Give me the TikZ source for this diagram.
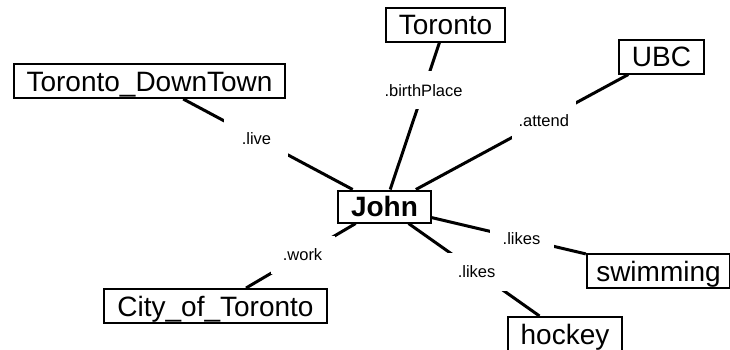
\documentclass[tikz,border=0pt]{standalone}
\usepackage{fontspec}
\setmainfont{Liberation Sans}
\usetikzlibrary{calc}

\begin{document}
\begin{tikzpicture}[x=1pt,y=-1pt,
	thing/.style={draw,line width=2pt,fill=white,inner xsep=13pt,inner ysep=0pt,
		minimum height=34pt,text height=20pt,text depth=0pt,font=\fontsize{28}{28}\selectfont},
	rel/.style={fill=white,inner sep=0pt,minimum width=64pt,minimum height=38pt,
		text height=12pt,text depth=0pt,font=\fontsize{16.5}{16.5}\selectfont},
	link/.style={line width=3pt}]

	\useasboundingbox (0,0) rectangle (730,349);

	% the subject and its objects
	\node[thing,minimum height=32pt] (john) at (384.5,206.5) {\textbf{John}};
	\node[thing] (downtown) at (149.5,81) {Toronto\_DownTown};
	\node[thing] (toronto) at (445.5,24.5) {Toronto};
	\node[thing] (ubc) at (661.5,56.5) {UBC};
	\node[thing] (city) at (215.5,306) {City\_of\_Toronto};
	\node[thing,inner xsep=9.5pt] (swimming) at (658.5,271) {swimming};
	\node[thing] (hockey) at (565,334) {hockey};

	\foreach \obj in {downtown,toronto,ubc,city,swimming,hockey}
		\draw[link] (john) -- (\obj);

	% properties
	\node[rel] (live) at ($(john)!0.545!(downtown)$) {.live};
	\node[rel] (birth) at ($(john)!0.64!(toronto)$) {.birthPlace};
	\node[rel] (attend) at ($(john)!0.575!(ubc)$) {.attend};
	\node[rel] (work) at ($(john)!0.485!(city)$) {.work};
	\node[rel] (likesa) at ($(john)!0.5!(swimming)$) {.likes};
	\node[rel] (likesb) at ($(john)!0.51!(hockey)$) {.likes};

\end{tikzpicture}
\end{document}
